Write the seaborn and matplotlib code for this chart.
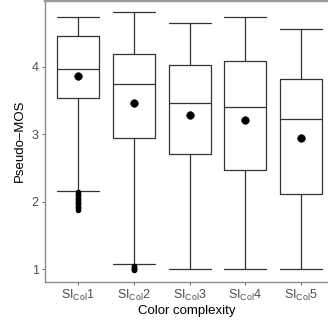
import seaborn as sns
import matplotlib.pyplot as plt
import pandas as pd

groups = ['SI$_{\\mathrm{Col}}$1', 'SI$_{\\mathrm{Col}}$2', 'SI$_{\\mathrm{Col}}$3',
          'SI$_{\\mathrm{Col}}$4', 'SI$_{\\mathrm{Col}}$5']
whislo = [2.16, 1.07, 1.00, 1.00, 1.00]
q1 = [3.53, 2.94, 2.70, 2.47, 2.12]
med = [3.96, 3.74, 3.46, 3.41, 3.23]
q3 = [4.45, 4.19, 4.02, 4.08, 3.82]
whishi = [4.74, 4.81, 4.65, 4.74, 4.56]
means = [3.87, 3.46, 3.29, 3.21, 2.94]
fliers1 = [2.14, 2.12, 2.10, 2.08, 2.06, 2.04, 2.02, 2.00, 1.98, 1.96, 1.94, 1.92, 1.90, 1.88]
fliers2 = [1.04, 1.03, 1.02, 1.01, 1.00, 0.99]
fliers = [fliers1, fliers2, [], [], []]

sns.set_theme(style='white')
plt.rcParams['font.family'] = ['Liberation Sans', 'DejaVu Sans']
plt.rcParams['mathtext.fontset'] = 'custom'
plt.rcParams['mathtext.rm'] = 'Liberation Sans'

fig = plt.figure(figsize=(3.28, 3.22), dpi=100)
ax = fig.add_axes([45/328, 40/322, 283/328, 282/322])

stats = []
for i in range(len(groups)):
    stats.append({'whislo': whislo[i], 'q1': q1[i], 'med': med[i], 'q3': q3[i],
                  'whishi': whishi[i], 'mean': means[i], 'fliers': fliers[i]})

line = dict(color='#333333', linewidth=0.9)
ax.bxp(stats, positions=range(5), widths=0.75, capwidths=0.75,
       showmeans=False, boxprops=line, whiskerprops=line, capprops=line,
       medianprops=line,
       flierprops=dict(marker='o', markersize=3, markerfacecolor='black',
                       markeredgecolor='black'))

df_mean = pd.DataFrame({'x': range(5), 'mean': means})
sns.scatterplot(data=df_mean, x='x', y='mean', ax=ax, color='black', s=30,
                edgecolor='black', zorder=5)

ax.set_xlim(-0.59, 4.48)
ax.set_ylim(0.81, 4.99)
ax.set_yticks([1, 2, 3, 4])
ax.set_xticks(range(5))
ax.set_xticklabels(groups)
ax.set_xlabel('Color complexity', fontsize=9.5, color='black', labelpad=1)
ax.set_ylabel('Pseudo\u2013MOS', fontsize=9.5, color='black', labelpad=4)
ax.tick_params(axis='both', labelsize=9, labelcolor='#4d4d4d', color='#4d4d4d',
               length=2.5, width=0.6, bottom=True, left=True, pad=2)
for s in ['left', 'bottom']:
    ax.spines[s].set_color('#8a8a8a')
    ax.spines[s].set_linewidth(1)
ax.spines['right'].set_visible(False)
ax.spines['top'].set_color('#9a9a9a')
ax.spines['top'].set_linewidth(2.5)

fig.savefig('out.png', dpi=100)
